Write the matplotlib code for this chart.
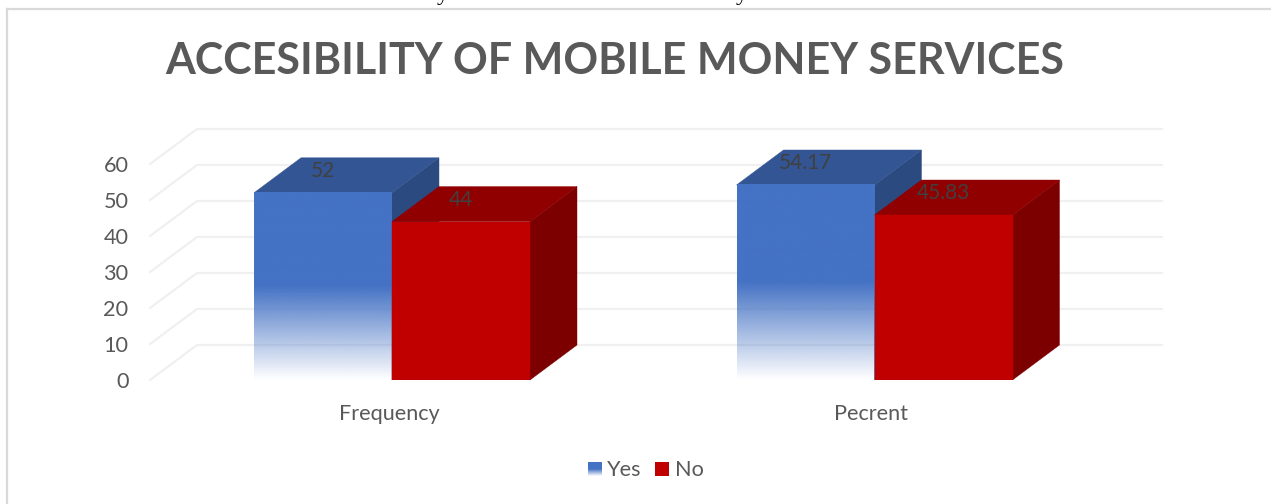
import matplotlib
matplotlib.use("Agg")
import matplotlib.pyplot as plt
from matplotlib.lines import Line2D
from matplotlib.patches import Polygon
from matplotlib.colors import to_rgb
import numpy as np

categories = ["Frequency", "Pecrent"]
yes_values = [52, 54.17]
no_values = [44, 45.83]
value_labels_yes = ["52", "54.17"]
value_labels_no = ["44", "45.83"]
y_ticks = [0, 10, 20, 30, 40, 50, 60]
legend_names = ["Yes", "No"]
title = "ACCESIBILITY OF MOBILE MONEY SERVICES"

W, H = 1271, 504
TEXT = "#595959"
BLUE, BLUE_TOP, BLUE_SIDE = "#4472C4", "#335593", "#2B4A80"
RED, RED_TOP, RED_SIDE = "#C00000", "#900000", "#7C0000"
GRID = "#F0F0F0"

# axes box in pixels, front plane of the fake 3D chart
left, right, base, px_per_unit, px_per_cat = 150, 1115, 380, 3.6, 482.5
first_cat = 389
depth_x = 47 / px_per_cat
depth_y = 35 / px_per_unit
bar_w = 138 / px_per_cat
bar_shift = 3 / px_per_cat

plt.rcParams["font.family"] = ["Lato", "DejaVu Sans"]

fig = plt.figure(figsize=(W / 100, H / 100), dpi=100)
top = base - 60 * px_per_unit
ax = fig.add_axes([left / W, 1 - base / H, (right - left) / W, (base - top) / H])
xmin = (left - first_cat) / px_per_cat
xmax = (right - first_cat) / px_per_cat
ax.patch.set_alpha(0)
for s in ax.spines.values():
    s.set_visible(False)


def fade(color):
    # solid in the upper half, running out to white at the bottom
    rgba = np.ones((256, 1, 4))
    rgba[:, 0, :3] = to_rgb(color)
    rgba[:, 0, 3] = np.clip(np.linspace(0, 1, 256) / 0.5, 0, 1)
    return rgba


def box(x0, value, front, top_face, side):
    x1 = x0 + bar_w
    ax.add_patch(Polygon([(x1, 0), (x1 + depth_x, depth_y), (x1 + depth_x, value + depth_y), (x1, value)],
                         closed=True, fc=side, ec=side, lw=0.3, zorder=3, clip_on=False))
    ax.add_patch(Polygon([(x0, value), (x1, value), (x1 + depth_x, value + depth_y), (x0 + depth_x, value + depth_y)],
                         closed=True, fc=top_face, ec=top_face, lw=0.3, zorder=3, clip_on=False))
    if front == BLUE:
        ax.imshow(fade(front), extent=(x0, x1, 0, value), origin="lower", aspect="auto", zorder=3)
    else:
        ax.bar(x0, value, bar_w, align="edge", color=front, ec=front, lw=0.3, zorder=3)


# walls: only the floor edge and back line of each grid level are drawn
for v in y_ticks:
    ax.plot([xmin, xmin + depth_x, xmax + depth_x], [v, v + depth_y, v + depth_y],
            color=GRID, lw=1.6, zorder=1, clip_on=False)

for i in range(len(categories)):
    centre = i + bar_shift
    box(centre - bar_w, yes_values[i], BLUE, BLUE_TOP, BLUE_SIDE)
    box(centre, no_values[i], RED, RED_TOP, RED_SIDE)
    ax.text(centre - bar_w / 2, yes_values[i] + 6.0, value_labels_yes[i], color="#404040",
            fontsize=15, ha="center", va="center", zorder=5, clip_on=False)
    ax.text(centre + bar_w / 2, no_values[i] + 6.0, value_labels_no[i], color="#404040",
            fontsize=15, ha="center", va="center", zorder=5, clip_on=False)

ax.set_xlim(xmin, xmax)
ax.set_ylim(0, 60)
ax.set_xticks(range(len(categories)))
ax.set_xticklabels(categories)
ax.set_yticks(y_ticks)
ax.tick_params(axis="both", length=0, labelsize=15.6, labelcolor=TEXT)
ax.tick_params(axis="y", pad=15.5)
ax.tick_params(axis="x", pad=17)

fig.text(615 / W, 1 - 61 / H, title, fontsize=31, fontweight="bold", color=TEXT, ha="center", va="center")

# chart frame, open on the right and at the bottom
fig.add_artist(Line2D([7 / W, 7 / W], [0, 1 - 9 / H], color="#D9D9D9", lw=1.6))
fig.add_artist(Line2D([7 / W, 1], [1 - 9 / H, 1 - 9 / H], color="#D9D9D9", lw=1.6))

# legend
sw = fig.add_axes([588 / W, 1 - 476 / H, 14 / W, 14 / H])
sw.imshow(fade(BLUE), origin="lower", aspect="auto")
sw.axis("off")
fig.patches.append(plt.Rectangle((655 / W, 1 - 476 / H), 14 / W, 14 / H, transform=fig.transFigure, fc=RED, ec="none"))
fig.text(607 / W, 1 - 470 / H, legend_names[0], fontsize=15.6, color=TEXT, va="center")
fig.text(675 / W, 1 - 470 / H, legend_names[1], fontsize=15.6, color=TEXT, va="center")

# line of body text running off the top edge
for x in [437, 736]:
    fig.text(x / W, 1 - 0 / H, "y", fontsize=17, family="Liberation Serif", color="black", ha="left", va="baseline")

fig.savefig("out.png", dpi=100)
